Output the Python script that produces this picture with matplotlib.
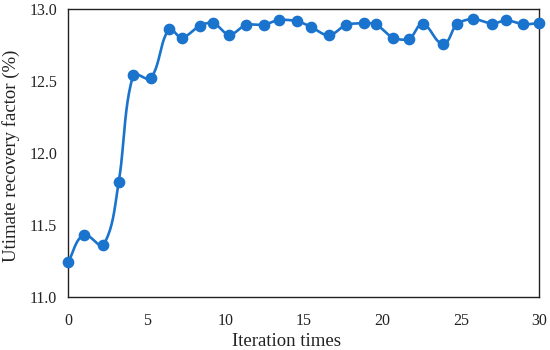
import numpy as np
import matplotlib
matplotlib.use("Agg")
import matplotlib.pyplot as plt

iterations = [0.0, 0.97, 2.22, 3.20, 4.13, 5.24, 6.41, 7.21, 8.38, 9.23,
              10.25, 11.29, 12.46, 13.40, 14.58, 15.43, 16.60, 17.67, 18.83, 19.58,
              20.68, 21.72, 22.57, 23.87, 24.74, 25.78, 26.99, 27.90, 28.99, 30.0]
recovery = [11.244, 11.430, 11.362, 11.801, 12.544, 12.521, 12.864, 12.804, 12.887, 12.906,
            12.825, 12.892, 12.894, 12.927, 12.918, 12.880, 12.820, 12.892, 12.904, 12.897,
            12.804, 12.797, 12.897, 12.762, 12.897, 12.934, 12.901, 12.925, 12.897, 12.906]
xticks = [0, 5, 10, 15, 20, 25, 30]
yticks = [11.0, 11.5, 12.0, 12.5, 13.0]

plt.rcParams['font.family'] = ['Liberation Serif', 'DejaVu Serif']


def smooth_display(ax, x, y, n=24, k=0.3):
    pts = ax.transData.transform(np.column_stack([x, y]))
    m = len(pts)
    tang = np.zeros_like(pts)
    for i in range(m):
        a = pts[max(i - 1, 0)]
        b = pts[min(i + 1, m - 1)]
        d = b - a
        nrm = np.hypot(*d)
        tang[i] = d / nrm if nrm > 0 else 0
    t = np.linspace(0, 1, n)[:, None]
    out = []
    for i in range(m - 1):
        p0, p3 = pts[i], pts[i + 1]
        L = np.hypot(*(p3 - p0))
        c1 = p0 + tang[i] * L * k
        c2 = p3 - tang[i + 1] * L * k
        b = (1 - t) ** 3 * p0 + 3 * (1 - t) ** 2 * t * c1 + 3 * (1 - t) * t ** 2 * c2 + t ** 3 * p3
        out.append(b)
    out = np.vstack(out)
    data = ax.transData.inverted().transform(out)
    return data[:, 0], data[:, 1]


color = '#1A73CC'
fig = plt.figure(figsize=(5.5, 3.5), dpi=100)
ax = fig.add_axes([0.1245, 0.1523, 0.8561, 0.8206])
ax.set_xlim(0, 30)
ax.set_ylim(11.0, 13.0)
sx, sy = smooth_display(ax, iterations, recovery)
ax.plot(sx, sy, color=color, lw=1.9, zorder=2)
ax.plot(iterations, recovery, 'o', color=color, ms=7.4, zorder=3, clip_on=False)

ax.set_xticks(xticks)
ax.set_yticks(yticks)
ax.set_yticklabels([f"{v:.1f}" for v in yticks])
ax.tick_params(length=0, labelsize=11.5, colors='#222222')
ax.tick_params(axis='x', pad=12)
ax.tick_params(axis='y', pad=8)
for s in ax.spines.values():
    s.set_color('#222222'); s.set_linewidth(1.0)
ax.set_xlabel('Iteration times', fontsize=13.5, color='#222222')
ax.xaxis.set_label_coords(0.462, -0.125)
ax.set_ylabel('Utimate recovery factor (%)', fontsize=13.5, color='#222222')
ax.yaxis.set_label_coords(-0.102, 0.49)
fig.savefig('out.png', dpi=100)
